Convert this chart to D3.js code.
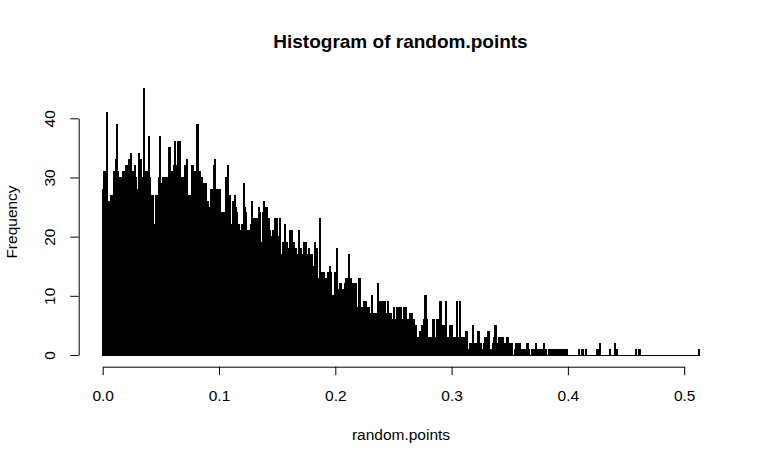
<!DOCTYPE html>
<html>
<head>
<meta charset="utf-8">
<script src="https://cdn.jsdelivr.net/npm/d3@7"></script>
<style>
  body { margin: 0; background: #fff; }
  text { font-family: Arial, "Liberation Sans", sans-serif; fill: #000; }
</style>
</head>
<body>
<div id="chart"></div>
<script>
// counts per bin, bins are 0.001 wide starting at 0.000
var counts = [
  28,31,31,41,23,26,26,27,27,31,
  31,33,39,31,30,30,25,31,31,31,
  32,29,33,33,34,24,31,32,30,28,
  28,34,33,30,30,45,28,31,31,37,
  30,27,27,27,22,27,27,27,30,37,
  29,30,29,30,30,30,30,35,31,31,
  29,32,36,32,36,29,36,25,30,30,
  32,32,33,27,27,27,32,32,31,26,
  31,39,31,31,28,30,28,29,29,26,
  26,22,25,28,28,32,33,28,28,28,
  28,24,23,24,24,24,30,32,27,27,
  22,22,26,27,25,24,22,22,21,22,
  21,29,25,24,21,21,19,22,26,22,
  23,23,23,23,25,24,19,24,26,20,
  25,25,23,21,20,20,21,21,23,23,
  20,17,23,17,16,19,22,19,19,18,
  14,21,21,16,19,18,18,17,21,18,
  18,17,16,19,19,17,16,18,17,17,
  15,14,19,18,18,13,23,14,14,12,
  14,12,13,14,13,15,14,10,10,14,
  14,18,11,11,12,10,11,11,12,13,
  13,17,13,13,12,12,12,12,8,8,
  13,13,8,6,9,9,9,8,8,7,
  7,10,7,7,7,7,12,6,9,9,
  6,9,9,7,7,9,7,7,6,6,
  8,6,6,8,8,8,8,6,6,8,
  8,4,6,6,7,7,6,6,5,5,
  3,3,4,4,5,5,6,10,6,3,
  3,3,3,3,6,3,3,6,6,6,
  9,5,5,5,4,9,3,3,5,5,
  5,3,3,3,9,3,3,9,3,3,
  2,3,4,4,1,2,2,1,5,2,
  2,1,4,4,2,2,1,2,3,3,
  1,4,4,1,1,2,3,5,5,2,
  3,3,2,3,3,2,2,3,3,1,
  2,2,0,0,1,2,2,2,2,1,
  1,0,1,1,2,2,1,0,0,1,
  1,1,2,1,1,0,1,0,1,2,
  1,1,0,1,1,1,0,1,1,0,
  1,1,0,1,1,0,1,0,1,1,
  0,0,0,0,0,0,0,0,0,1,
  0,0,1,0,0,1,0,0,0,0,
  0,0,0,0,0,1,0,2,0,0,
  0,0,0,0,0,0,1,0,0,0,
  2,0,1,0,0,0,0,0,0,0,
  0,0,0,0,0,0,0,0,1,0,
  0,1,0,0,0,0,0,0,0,0,
  0,0,0,0,0,0,0,0,0,0,
  0,0,0,0,0,0,0,0,0,0,
  0,0,0,0,0,0,0,0,0,0,
  0,0,0,0,0,0,0,0,0,0,
  0,0,1
]
var bin_start = 0.000
var bin_width = 0.001

var x_ticks = [0, 0.1, 0.2, 0.3, 0.4, 0.5]
var x_tick_labels = ["0.0", "0.1", "0.2", "0.3", "0.4", "0.5"]
var y_ticks = [0, 10, 20, 30, 40]
var y_tick_labels = ["0", "10", "20", "30", "40"]

var main_title = "Histogram of random.points"
var x_title = "random.points"
var y_title = "Frequency"

var width = 765, height = 464

var bins = counts.map(function(c, i) {
  return { x0: bin_start + i * bin_width, x1: bin_start + (i + 1) * bin_width, count: c }
})

var svg = d3.select("#chart")
  .append("svg")
    .attr("width", width)
    .attr("height", height)

var x = d3.scaleLinear().domain([0, 0.5]).range([102.7, 684.2])
var y = d3.scaleLinear().domain([0, 40]).range([355, 118.3])

// bars (R draws every bin border, so thin bins come out solid black)
svg.append("g")
  .attr("shape-rendering", "crispEdges")
  .selectAll("rect")
  .data(bins.filter(function(d) { return d.count > 0 }))
  .enter()
  .append("rect")
    .attr("x", function(d) { return x(d.x0) })
    .attr("width", function(d) { return x(d.x1) - x(d.x0) })
    .attr("y", function(d) { return y(d.count) })
    .attr("height", function(d) { return y(0) - y(d.count) })
    .style("fill", "#000")
    .style("stroke", "#000")
    .style("stroke-width", 1)

// bottom edges of all bins, empty ones included
svg.append("line")
  .attr("shape-rendering", "crispEdges")
  .attr("x1", x(bins[0].x0))
  .attr("x2", x(bins[bins.length - 1].x1))
  .attr("y1", y(0))
  .attr("y2", y(0))
  .style("stroke", "#000")
  .style("stroke-width", 1)

var xAxis = svg.append("g")
  .attr("transform", "translate(0,366.7)")
  .call(d3.axisBottom(x)
    .tickValues(x_ticks)
    .tickFormat(function(d, i) { return x_tick_labels[i] })
    .tickSize(8.5)
    .tickSizeOuter(0)
    .tickPadding(14.5))

var yAxis = svg.append("g")
  .attr("transform", "translate(78.7,0)")
  .call(d3.axisLeft(y)
    .tickValues(y_ticks)
    .tickFormat(function(d, i) { return y_tick_labels[i] })
    .tickSize(8.5)
    .tickSizeOuter(0))

svg.selectAll(".domain, .tick line")
  .style("stroke", "#000")
  .style("stroke-width", 1)

xAxis.selectAll("text")
  .style("font-size", "15.5px")
  .attr("fill", "#000")

yAxis.selectAll("text")
  .attr("x", null)
  .attr("dy", null)
  .attr("transform", "translate(-23.7,0) rotate(-90)")
  .attr("text-anchor", "middle")
  .style("font-size", "15.5px")
  .attr("fill", "#000")

svg.append("text")
  .attr("x", 400.5)
  .attr("y", 47.5)
  .attr("text-anchor", "middle")
  .style("font-size", "19px")
  .style("font-weight", "bold")
  .text(main_title)

svg.append("text")
  .attr("x", 401)
  .attr("y", 440)
  .attr("text-anchor", "middle")
  .style("font-size", "15.5px")
  .text(x_title)

svg.append("text")
  .attr("transform", "translate(16.7,222) rotate(-90)")
  .attr("text-anchor", "middle")
  .style("font-size", "15.5px")
  .text(y_title)
</script>
</body>
</html>
